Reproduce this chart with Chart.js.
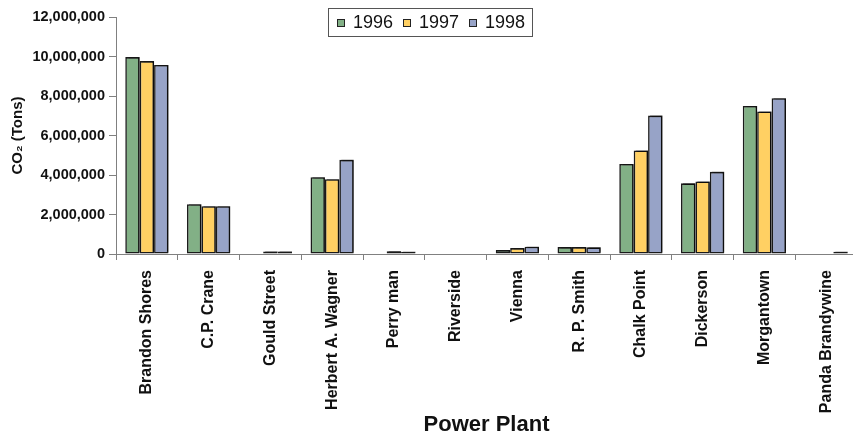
<!DOCTYPE html>
<html>
<head>
<meta charset="utf-8">
<title>CO2 emissions by power plant</title>
<script src="https://cdn.jsdelivr.net/npm/chart.js@4/dist/chart.umd.min.js"></script>
<style>
  html, body { margin: 0; padding: 0; background: #fff; overflow: hidden; }
  #wrap { position: relative; width: 858px; height: 438px; }
</style>
</head>
<body>
<div id="wrap"><canvas id="chart" width="858" height="438"></canvas></div>
<script>
const plants = ['Brandon Shores', 'C.P. Crane', 'Gould Street', 'Herbert A. Wagner', 'Perry man',
  'Riverside', 'Vienna', 'R. P. Smith', 'Chalk Point', 'Dickerson', 'Morgantown', 'Panda Brandywine'];
const years = ['1996', '1997', '1998'];
const co2_1996 = [9970000, 2520000, 0, 3890000, 0, 0, 200000, 350000, 4560000, 3580000, 7500000, 0];
const co2_1997 = [9770000, 2420000, 130000, 3790000, 140000, 0, 300000, 350000, 5240000, 3670000, 7220000, 0];
const co2_1998 = [9570000, 2420000, 130000, 4770000, 120000, 0, 370000, 340000, 7010000, 4160000, 7890000, 120000];
const yTicks = [0, 2000000, 4000000, 6000000, 8000000, 10000000, 12000000];

const colors = ['#82B086', '#FFD063', '#97A3C7'];
const FONT = '"Liberation Sans", Arial, Helvetica, sans-serif';

// legend drawn by hand so it can sit over the plot like the original
const boxLegend = {
  id: 'boxLegend',
  afterDraw(chart) {
    const ctx = chart.ctx;
    ctx.save();
    ctx.strokeStyle = '#555';
    ctx.lineWidth = 1;
    ctx.strokeRect(328.5, 8.5, 204, 28);
    ctx.font = '18px ' + FONT;
    ctx.textBaseline = 'middle';
    chart.data.datasets.forEach((ds, i) => {
      const x = 337 + i * 66;
      ctx.fillStyle = ds.backgroundColor;
      ctx.fillRect(x, 19, 8, 8);
      ctx.strokeStyle = '#222';
      ctx.strokeRect(x + 0.5, 19.5, 7, 7);
      ctx.fillStyle = '#111';
      ctx.fillText(ds.label, x + 16, 23);
    });
    ctx.restore();
  }
};

const barShadow = {
  id: 'barShadow',
  beforeDatasetsDraw(chart) {
    const ctx = chart.ctx;
    ctx.save();
    ctx.shadowColor = 'rgba(0,0,0,0.5)';
    ctx.shadowOffsetX = 2;
    ctx.shadowOffsetY = -1;
    ctx.shadowBlur = 0;
  },
  afterDatasetsDraw(chart) {
    chart.ctx.restore();
  }
};

const series = [co2_1996, co2_1997, co2_1998];

new Chart(document.getElementById('chart'), {
  type: 'bar',
  data: {
    labels: plants,
    datasets: years.map((y, i) => ({
      label: y,
      data: series[i],
      backgroundColor: colors[i],
      borderColor: '#1a1a1a',
      borderWidth: 1.6,
      borderSkipped: false,
      barPercentage: 1,
      categoryPercentage: 0.7,
    })),
  },
  options: {
    responsive: false,
    animation: false,
    devicePixelRatio: 1,
    layout: { padding: { top: 17, right: 1, bottom: 0, left: 0 } },
    plugins: {
      legend: { display: false },
      tooltip: { enabled: false },
    },
    scales: {
      x: {
        afterFit: scale => { scale.height = 184; },
        grid: { drawOnChartArea: false, drawTicks: true, tickLength: 6, tickColor: '#808080', offset: true },
        border: { color: '#808080', width: 1 },
        ticks: {
          color: '#111',
          font: { family: FONT, size: 16, weight: 'bold' },
          minRotation: 90,
          maxRotation: 90,
          padding: 10,
          autoSkip: false,
        },
        title: {
          display: true,
          text: 'Power Plant',
          color: '#111',
          font: { family: FONT, size: 22, weight: 'bold' },
          padding: { top: 0, bottom: 0 },
        },
      },
      y: {
        min: 0,
        max: 12000000,
        afterFit: scale => { scale.width = 116; },
        afterBuildTicks: scale => { scale.ticks = yTicks.map(v => ({ value: v })); },
        grid: { drawOnChartArea: false, drawTicks: true, tickLength: 7, tickColor: '#808080' },
        border: { color: '#808080', width: 1 },
        ticks: {
          color: '#111',
          font: { family: FONT, size: 14.5, weight: 'bold' },
          padding: 4,
          callback: v => v.toLocaleString('en-US'),
        },
        title: {
          display: true,
          text: 'CO\u2082 (Tons)',
          color: '#111',
          font: { family: FONT, size: 15, weight: 'bold' },
          padding: { top: 9, bottom: 0 },
        },
      },
    },
  },
  plugins: [boxLegend, barShadow],
});
</script>
</body>
</html>
